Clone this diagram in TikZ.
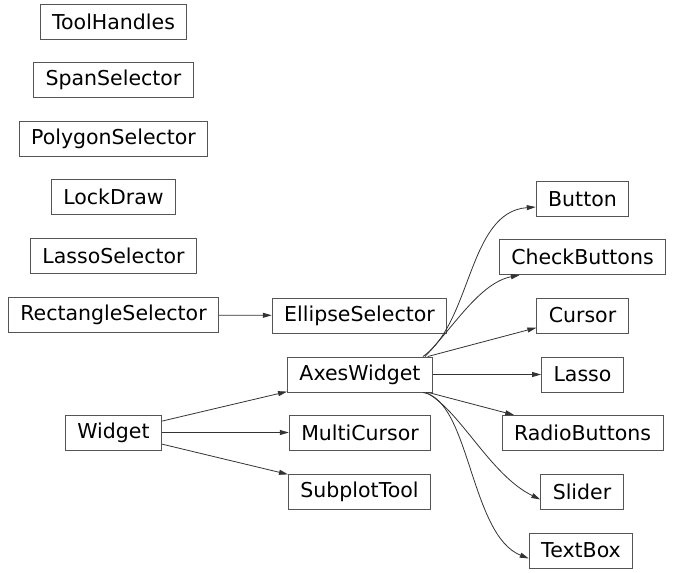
\documentclass[tikz,border=0pt]{standalone}
\usepackage{fontspec}
\setmainfont{DejaVu Sans}
\usepackage{xcolor}
\usepackage{tikz}
\usetikzlibrary{calc,arrows.meta}
\definecolor{frame}{HTML}{555555}
\definecolor{edge}{HTML}{333333}
\tikzset{
  cls/.style={draw=frame, line width=0.9pt, inner xsep=12pt, inner ysep=0pt,
    minimum height=35pt, font=\fontsize{20.5}{25}\selectfont, text=black},
  inh/.style={draw=edge, line width=0.8pt, -{Triangle[length=9pt,width=5pt]}},
}
\begin{document}
\begin{tikzpicture}[x=1pt,y=-1pt]
  \useasboundingbox (0,0) rectangle (673,573);
  \node[cls] (ToolHandles)       at (113.5, 21.5) {ToolHandles};
  \node[cls] (SpanSelector)      at (113.5, 80)   {SpanSelector};
  \node[cls] (PolygonSelector)   at (113.5,138.5) {PolygonSelector};
  \node[cls] (LockDraw)          at (113.5,197)   {LockDraw};
  \node[cls] (LassoSelector)     at (113.5,255.5) {LassoSelector};
  \node[cls] (RectangleSelector) at (113.5,315)   {RectangleSelector};
  \node[cls] (Widget)            at (113.5,432.5) {Widget};
  \node[cls] (EllipseSelector)   at (359.5,315.5) {EllipseSelector};
  \node[cls] (AxesWidget)        at (360,374.5)   {AxesWidget};
  \node[cls] (MultiCursor)       at (360,432.5)   {MultiCursor};
  \node[cls] (SubplotTool)       at (359.5,491.5) {SubplotTool};
  \node[cls] (Button)            at (582.5,199)   {Button};
  \node[cls] (CheckButtons)      at (582.5,257)   {CheckButtons};
  \node[cls] (Cursor)            at (582.5,315.5) {Cursor};
  \node[cls] (Lasso)             at (582.5,374.5) {Lasso};
  \node[cls] (RadioButtons)      at (582.5,433)   {RadioButtons};
  \node[cls] (Slider)            at (582,491.5)   {Slider};
  \node[cls] (TextBox)           at (581,550.5)   {TextBox};
  \draw[inh] (RectangleSelector) -- (EllipseSelector);
  \draw[inh] (Widget) -- (AxesWidget);
  \draw[inh] (Widget) -- (MultiCursor);
  \draw[inh] (Widget) -- (SubplotTool);
  \draw[inh] ([xshift=-10pt]AxesWidget.north east) .. controls (472,322) and (468,212) .. ([yshift=-8pt]Button.west);
  \draw[inh] ([xshift=-8pt]AxesWidget.north east) .. controls (455,325) and (480,283) .. ([xshift=21pt]CheckButtons.south west);
  \draw[inh] (AxesWidget) -- (Cursor);
  \draw[inh] (AxesWidget) -- (Lasso);
  \draw[inh] (AxesWidget) -- (RadioButtons);
  \draw[inh] ([xshift=-7pt]AxesWidget.south east) .. controls (460,410) and (490,475) .. ([yshift=-8pt]Slider.west);
  \draw[inh] ([xshift=-10pt]AxesWidget.south east) .. controls (470,400) and (470,535) .. ([yshift=-8pt]TextBox.west);
\end{tikzpicture}
\end{document}
